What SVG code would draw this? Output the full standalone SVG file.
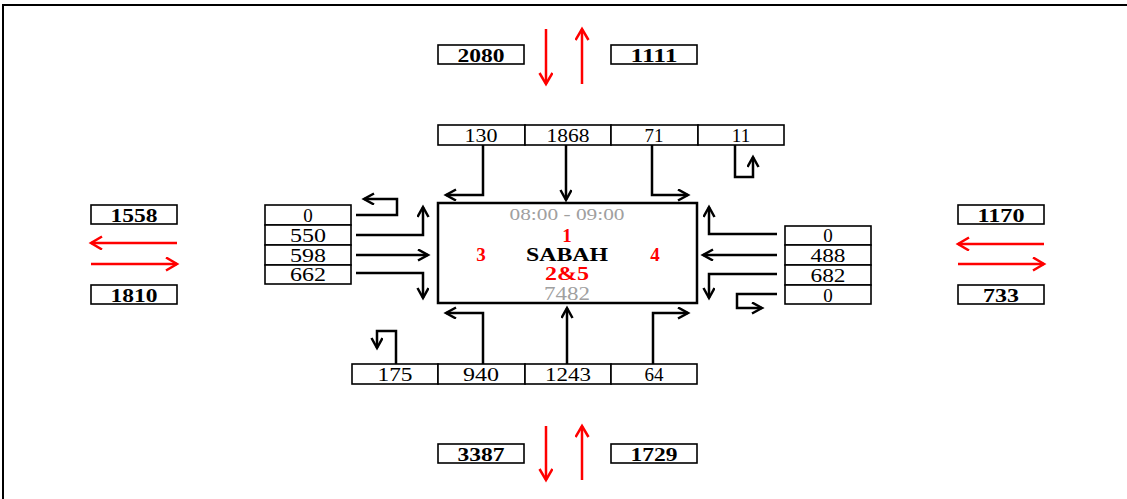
<svg xmlns="http://www.w3.org/2000/svg" width="1127" height="499" viewBox="0 0 1127 499">
<style>
.bx{fill:#fff;stroke:#000;stroke-width:1.6}
.t{font-family:"Liberation Serif","Times New Roman",serif;font-size:19px;text-anchor:middle;dominant-baseline:central;fill:#000}
.b{font-weight:bold}
.r{fill:#ff0000;font-weight:bold}
.g{fill:#a0a0a0}
.ar{fill:none;stroke:#000;stroke-width:2.5;marker-end:url(#ah)}
.rr{fill:none;stroke:#ff0000;stroke-width:2.5;marker-end:url(#rh)}
</style>
<defs>
<marker id="ah" markerUnits="userSpaceOnUse" markerWidth="14" markerHeight="14" refX="11" refY="6" orient="auto">
<path d="M1,0.5 L11,6 L1,11.5" fill="none" stroke="#000" stroke-width="2.5"/>
</marker>
<marker id="rh" markerUnits="userSpaceOnUse" markerWidth="16" markerHeight="16" refX="12" refY="7" orient="auto">
<path d="M1,0.5 L12,7 L1,13.5" fill="none" stroke="#ff0000" stroke-width="2.5"/>
</marker>
</defs>
<rect width="1127" height="499" fill="#fff"/>
<g id="frame"><path d="M3,499 V5 H1127" fill="none" stroke="#000" stroke-width="2"/></g>

<g id="total-top">
<rect class="bx" x="438" y="45" width="86" height="19"/><text class="t b" x="481" y="55" textLength="47" lengthAdjust="spacingAndGlyphs">2080</text>
<rect class="bx" x="611" y="45" width="86" height="19"/><text class="t b" x="654" y="55" textLength="47" lengthAdjust="spacingAndGlyphs">1111</text>
</g>
<g id="total-bottom">
<rect class="bx" x="438" y="444" width="86" height="19"/><text class="t b" x="481" y="454" textLength="47" lengthAdjust="spacingAndGlyphs">3387</text>
<rect class="bx" x="611" y="444" width="86" height="19"/><text class="t b" x="654" y="454" textLength="47" lengthAdjust="spacingAndGlyphs">1729</text>
</g>
<g id="total-left">
<rect class="bx" x="91" y="205" width="86" height="19"/><text class="t b" x="134" y="215" textLength="47" lengthAdjust="spacingAndGlyphs">1558</text>
<rect class="bx" x="91" y="285" width="86" height="19"/><text class="t b" x="134" y="295" textLength="47" lengthAdjust="spacingAndGlyphs">1810</text>
</g>
<g id="total-right">
<rect class="bx" x="958" y="205" width="86" height="19"/><text class="t b" x="1001" y="215" textLength="47" lengthAdjust="spacingAndGlyphs">1170</text>
<rect class="bx" x="958" y="285" width="86" height="19"/><text class="t b" x="1001" y="295" textLength="36" lengthAdjust="spacingAndGlyphs">733</text>
</g>

<g id="north-arm">
<rect class="bx" x="438" y="125" width="87" height="20"/><text class="t" x="481" y="135" textLength="33" lengthAdjust="spacingAndGlyphs">130</text>
<rect class="bx" x="525" y="125" width="86" height="20"/><text class="t" x="568" y="135" textLength="43" lengthAdjust="spacingAndGlyphs">1868</text>
<rect class="bx" x="611" y="125" width="87" height="20"/><text class="t" x="654" y="135">71</text>
<rect class="bx" x="698" y="125" width="86" height="20"/><text class="t" x="741" y="135">11</text>
</g>
<g id="south-arm">
<rect class="bx" x="352" y="364" width="86" height="20"/><text class="t" x="395" y="374" textLength="35" lengthAdjust="spacingAndGlyphs">175</text>
<rect class="bx" x="438" y="364" width="87" height="20"/><text class="t" x="481" y="374" textLength="36" lengthAdjust="spacingAndGlyphs">940</text>
<rect class="bx" x="525" y="364" width="86" height="20"/><text class="t" x="568" y="374" textLength="46" lengthAdjust="spacingAndGlyphs">1243</text>
<rect class="bx" x="611" y="364" width="86" height="20"/><text class="t" x="654" y="374">64</text>
</g>
<g id="west-arm">
<rect class="bx" x="265" y="205" width="86" height="20"/><text class="t" x="308" y="215">0</text>
<rect class="bx" x="265" y="225" width="86" height="20"/><text class="t" x="308" y="235" textLength="36" lengthAdjust="spacingAndGlyphs">550</text>
<rect class="bx" x="265" y="245" width="86" height="20"/><text class="t" x="308" y="255" textLength="36" lengthAdjust="spacingAndGlyphs">598</text>
<rect class="bx" x="265" y="265" width="86" height="19"/><text class="t" x="308" y="274" textLength="36" lengthAdjust="spacingAndGlyphs">662</text>
</g>
<g id="east-arm">
<rect class="bx" x="785" y="226" width="86" height="19"/><text class="t" x="828" y="235">0</text>
<rect class="bx" x="785" y="245" width="86" height="20"/><text class="t" x="828" y="255" textLength="35" lengthAdjust="spacingAndGlyphs">488</text>
<rect class="bx" x="785" y="265" width="86" height="20"/><text class="t" x="828" y="275" textLength="35" lengthAdjust="spacingAndGlyphs">682</text>
<rect class="bx" x="785" y="285" width="86" height="19"/><text class="t" x="828" y="295">0</text>
</g>

<g id="center">
<rect x="438" y="203" width="259" height="100" fill="#fff" stroke="#000" stroke-width="2.5"/>
<text class="t g" x="567" y="214" style="font-size:16px" textLength="115" lengthAdjust="spacingAndGlyphs">08:00 - 09:00</text>
<text class="t r" x="567" y="235">1</text>
<text class="t r" x="481" y="254">3</text>
<text class="t b" x="567" y="254" textLength="82" lengthAdjust="spacingAndGlyphs">SABAH</text>
<text class="t r" x="655" y="254">4</text>
<text class="t r" x="567" y="273" textLength="44" lengthAdjust="spacingAndGlyphs">2&amp;5</text>
<text class="t g" x="567" y="293" textLength="46" lengthAdjust="spacingAndGlyphs">7482</text>
</g>

<g id="connectors">
<path class="ar" d="M483,145 V195 H446"/>
<path class="ar" d="M566,145 V200"/>
<path class="ar" d="M652,145 V195 H688"/>
<path class="ar" d="M735,145 V177 H753 V157"/>

<path class="ar" d="M356,215 H397 V199 H364"/>
<path class="ar" d="M356,235 H423 V207"/>
<path class="ar" d="M356,255 H428"/>
<path class="ar" d="M356,273 H423 V298"/>

<path class="ar" d="M777,234 H709 V207"/>
<path class="ar" d="M777,255 H703"/>
<path class="ar" d="M777,274 H709 V298"/>
<path class="ar" d="M777,294 H737 V308 H762"/>

<path class="ar" d="M396,364 V331 H377 V348"/>
<path class="ar" d="M483,364 V313 H446"/>
<path class="ar" d="M567,364 V308"/>
<path class="ar" d="M653,364 V313 H688"/>

<path class="rr" d="M546,29 V84"/>
<path class="rr" d="M582,84 V29"/>
<path class="rr" d="M546,426 V480"/>
<path class="rr" d="M582,480 V426"/>
<path class="rr" d="M177,243 H91"/>
<path class="rr" d="M91,264 H177"/>
<path class="rr" d="M1044,244 H958"/>
<path class="rr" d="M958,264 H1044"/>
</g>
</svg>
